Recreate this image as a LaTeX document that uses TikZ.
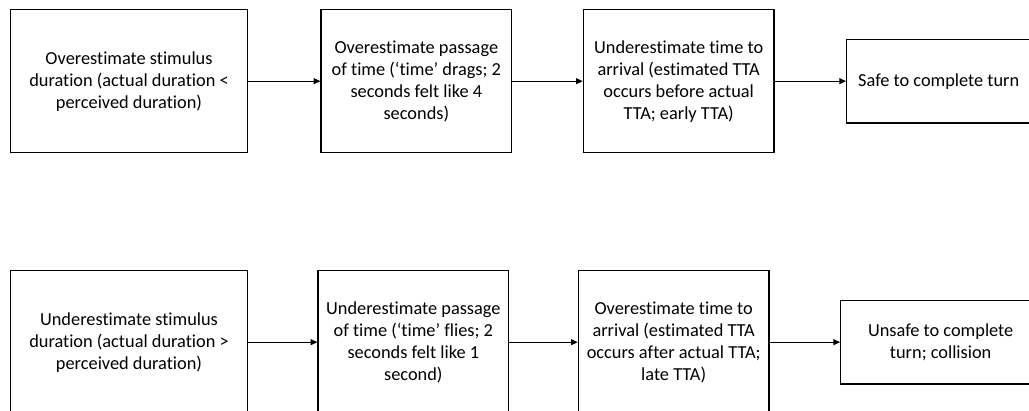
\documentclass[tikz,border=0pt]{standalone}
\usepackage{fontspec}
\setmainfont{Carlito}[Ligatures=NoCommon]
\usetikzlibrary{positioning,arrows.meta}

\begin{document}
\begin{tikzpicture}[
    >={Triangle[length=4pt,width=3.6pt]},
    every node/.style={font=\fontsize{11pt}{13.2pt}\selectfont},
    stage/.style={
        draw, line width=0.8pt, align=center,
        minimum width=#1, minimum height=85.8pt, inner sep=2pt
    },
    outcome/.style={
        draw, line width=0.8pt, align=center,
        minimum width=#1, minimum height=50pt, inner sep=2pt
    },
    arr/.style={->, line width=0.5pt},
]
\useasboundingbox (0,0) rectangle (617.4pt,-246pt);
\clip (0,0) rectangle (617.4pt,-246pt);

% === Top row: overestimated duration ===
\node[stage=142pt, anchor=north west] (overdur) at (6pt,-5.4pt)
    {Overestimate stimulus\\duration (actual duration <\\perceived duration)};
\node[stage=114.4pt, right=43.4pt of overdur] (overtime)
    {Overestimate passage\\of time (‘time’ drags; 2\\seconds felt like 4\\seconds)};
\node[stage=114.4pt, right=42.2pt of overtime] (undertta)
    {Underestimate time to\\arrival (estimated TTA\\occurs before actual\\TTA; early TTA)};
\node[outcome=110.4pt, right=42.8pt of undertta] (safe)
    {Safe to complete turn};

\draw[arr] (overdur) -- (overtime);
\draw[arr] (overtime) -- (undertta);
\draw[arr] (undertta) -- (safe);

% === Bottom row: underestimated duration ===
\node[stage=142pt, anchor=north west] (underdur) at (6pt,-162pt)
    {Underestimate stimulus\\duration (actual duration >\\perceived duration)};
\node[stage=114.4pt, right=41.6pt of underdur] (undertime)
    {Underestimate passage\\of time (‘time’ flies; 2\\seconds felt like 1\\second)};
\node[stage=114.4pt, right=41pt of undertime] (overtta)
    {Overestimate time to\\arrival (estimated TTA\\occurs after actual TTA;\\late TTA)};
\node[outcome=120pt, right=42.2pt of overtta] (unsafe)
    {Unsafe to complete\\turn; collision};

\draw[arr] (underdur) -- (undertime);
\draw[arr] (undertime) -- (overtta);
\draw[arr] (overtta) -- (unsafe);

\end{tikzpicture}
\end{document}
